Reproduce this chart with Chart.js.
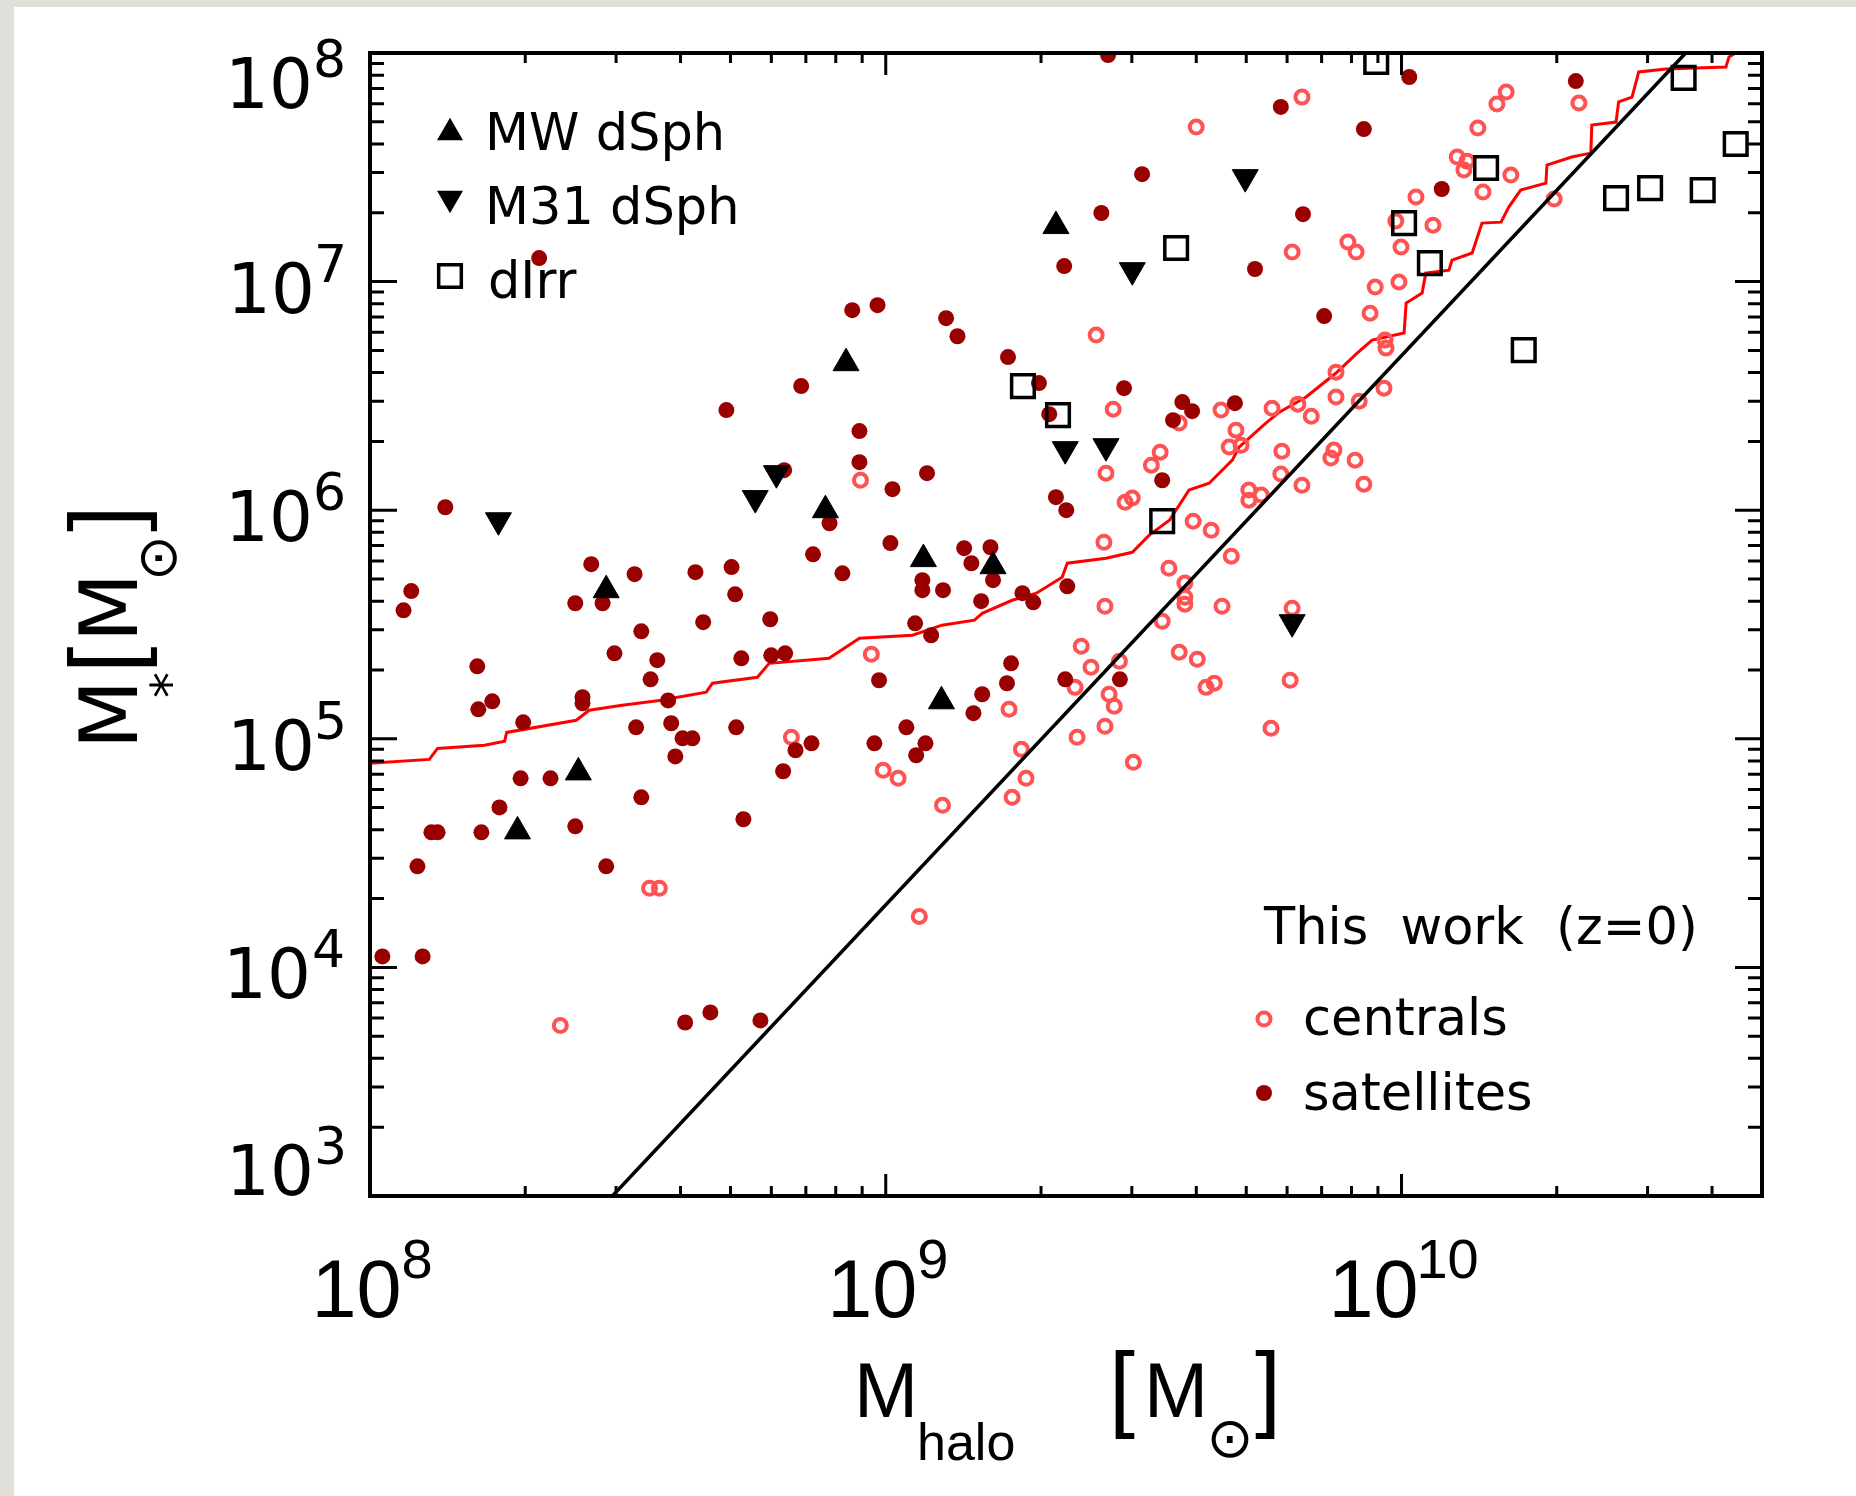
<!DOCTYPE html>
<html>
<head>
<meta charset="utf-8">
<title>M_star vs M_halo</title>
<script src="https://cdn.jsdelivr.net/npm/chart.js@4.4.1/dist/chart.umd.min.js"></script>
<style>
  html, body { margin:0; padding:0; background:#ffffff; }
  #page { position:relative; width:1856px; height:1496px; background:#ffffff; overflow:hidden; }
  #edgeLeft { position:absolute; left:0; top:0; width:14px; height:1496px; background:#e1dfda; }
  #edgeTop { position:absolute; left:0; top:0; width:1856px; height:7px; background:#e1dfda; }
  #chart { position:absolute; left:0; top:0; }
</style>
</head>
<body>
<div id="page">
  <div id="edgeLeft"></div>
  <div id="edgeTop"></div>
  <canvas id="chart" width="1856" height="1496"></canvas>
</div>
<script>
// ---- values, stored as log10(M / Msun) ----
const satLogMhalo = [8.328, 8.691, 8.836, 9.431, 9.766, 9.497, 9.418, 9.346, 9.716, 8.935,
  8.984, 9.117, 9.139, 9.237, 9.297, 9.317, 9.462, 9.575, 9.594, 9.557,
  9.677, 8.949, 10.015, 9.927, 10.338, 10.078, 9.809, 9.850, 8.146, 8.080,
  8.065, 8.429, 8.398, 8.451, 8.513, 8.526, 8.474, 8.557, 8.544, 8.631,
  8.701, 8.708, 8.646, 8.776, 8.720, 8.778, 8.805, 8.859, 8.803, 8.891,
  8.208, 8.237, 8.210, 8.297, 8.412, 8.412, 8.578, 8.584, 8.516, 8.606,
  8.625, 8.592, 8.710, 8.825, 8.856, 8.801, 8.292, 8.350, 8.526, 8.251,
  8.949, 9.080, 9.013, 9.536, 9.330, 9.350, 9.009, 8.916, 9.071, 9.071,
  9.111, 9.152, 9.166, 9.203, 9.208, 9.185, 9.265, 9.286, 9.352, 9.057,
  9.088, 8.987, 9.243, 9.235, 9.187, 9.170, 9.040, 8.978, 9.077, 9.059,
  9.348, 9.454, 8.724, 8.119, 8.131, 8.216, 8.398, 8.092, 8.458, 8.024,
  8.102, 8.611, 8.660, 8.757];
const satLogMstar = [7.103, 6.438, 6.543, 7.991, 7.764, 7.470, 7.300, 7.068, 7.055, 6.875,
  6.897, 6.840, 6.761, 6.670, 6.556, 6.420, 6.534, 6.473, 6.433, 6.394,
  6.468, 6.346, 7.895, 7.667, 7.877, 7.405, 7.295, 6.849, 6.013, 5.646,
  5.562, 5.764, 5.593, 5.593, 5.720, 5.470, 5.374, 5.344, 5.260, 5.729,
  5.751, 5.632, 5.510, 5.523, 5.352, 5.365, 5.374, 5.807, 6.175, 5.943,
  5.317, 5.164, 5.129, 5.072, 5.182, 5.155, 5.168, 5.068, 5.050, 5.002,
  5.002, 4.923, 5.050, 4.950, 4.980, 4.858, 4.827, 4.827, 4.744, 4.700,
  6.210, 6.162, 6.092, 6.131, 6.057, 6.000, 5.856, 5.724, 5.694, 5.650,
  5.650, 5.834, 5.768, 5.838, 5.694, 5.602, 5.637, 5.597, 5.667, 5.505,
  5.453, 5.256, 5.330, 5.243, 5.195, 5.112, 5.050, 4.980, 4.980, 4.928,
  5.260, 5.260, 4.648, 4.591, 4.591, 4.591, 4.617, 4.442, 4.442, 4.048,
  4.048, 3.759, 3.803, 3.768];

const cenLogMhalo = [9.602, 9.408, 9.441, 9.569, 9.650, 9.749, 9.679, 9.807, 10.203, 10.185,
  10.344, 10.148, 10.108, 10.127, 10.121, 10.212, 10.158, 10.028, 10.296, 9.989,
  10.061, 9.788, 9.896, 9.912, 9.999, 9.995, 9.949, 9.939, 9.968, 9.970,
  9.873, 9.873, 9.918, 9.966, 9.799, 9.825, 8.817, 8.951, 9.427, 9.532,
  9.515, 9.464, 9.478, 9.596, 9.631, 9.666, 9.689, 9.704, 9.704, 9.728,
  9.768, 9.766, 9.670, 9.423, 8.972, 9.239, 8.995, 9.024, 9.110, 9.263,
  9.272, 9.245, 9.379, 9.398, 9.367, 9.453, 9.433, 9.443, 9.425, 9.371,
  9.480, 9.425, 9.549, 9.580, 9.580, 9.580, 9.652, 9.536, 9.569, 9.604,
  9.621, 9.637, 9.747, 9.784, 9.869, 9.863, 9.910, 9.807, 9.927, 9.788,
  8.369, 8.542, 8.561, 9.065];
const cenLogMstar = [7.676, 6.766, 6.442, 6.381, 6.438, 6.446, 6.350, 7.807, 7.829, 7.777,
  7.781, 7.672, 7.545, 7.527, 7.488, 7.466, 7.392, 7.370, 7.361, 7.265,
  7.247, 7.129, 7.173, 7.129, 7.151, 6.998, 6.976, 6.862, 6.744, 6.709,
  6.604, 6.495, 6.477, 6.534, 6.464, 6.411, 5.007, 6.131, 6.162, 6.254,
  6.197, 6.035, 6.053, 5.952, 5.912, 6.276, 6.284, 6.088, 6.044, 6.066,
  6.258, 6.158, 5.799, 5.860, 5.370, 5.129, 4.862, 4.827, 4.709, 4.954,
  4.827, 4.744, 5.405, 5.313, 5.225, 5.339, 5.195, 5.142, 5.055, 5.007,
  4.897, 5.580, 5.746, 5.681, 5.619, 5.589, 5.580, 5.514, 5.379, 5.348,
  5.225, 5.243, 5.046, 5.256, 6.263, 6.228, 6.219, 6.109, 6.114, 5.571,
  3.746, 4.346, 4.346, 4.223];

const mwLogMhalo = [9.330, 8.923, 8.458, 8.883, 9.073, 9.208, 9.108, 8.404, 8.286];
const mwLogMstar = [7.243, 6.643, 5.650, 6.000, 5.786, 5.755, 5.164, 4.853, 4.595];

const m31LogMhalo = [9.697, 9.478, 8.249, 8.788, 8.747, 9.348, 9.427, 9.788];
const m31LogMstar = [7.457, 7.050, 5.956, 6.162, 6.053, 6.267, 6.280, 5.510];

const dirrLogMhalo = [9.951, 10.547, 10.648, 10.164, 10.416, 10.482, 10.584, 10.005, 10.055, 9.563, 10.237, 9.266, 9.334, 9.536];
const dirrLogMstar = [7.961, 7.891, 7.602, 7.497, 7.365, 7.409, 7.400, 7.256, 7.081, 7.147, 6.700, 6.543, 6.416, 5.952];

// red step-like curve (vertices)
const stepLogMhalo = [8.000, 8.115, 8.131, 8.222, 8.261, 8.265, 8.400, 8.425, 8.489, 8.561,
  8.652, 8.664, 8.751, 8.774, 8.890, 8.949, 9.052, 9.109, 9.172, 9.187,
  9.245, 9.292, 9.342, 9.352, 9.427, 9.478, 9.511, 9.550, 9.588, 9.627,
  9.672, 9.685, 9.737, 9.763, 9.815, 9.873, 9.914, 9.943, 10.005, 10.009,
  10.040, 10.047, 10.092, 10.098, 10.137, 10.156, 10.193, 10.208, 10.231, 10.280,
  10.282, 10.330, 10.367, 10.369, 10.416, 10.421, 10.447, 10.460, 10.513, 10.629,
  10.635, 10.648];
const stepLogMstar = [4.893, 4.910, 4.958, 4.972, 4.989, 5.028, 5.081, 5.125, 5.147, 5.168,
  5.204, 5.243, 5.269, 5.330, 5.352, 5.440, 5.453, 5.497, 5.519, 5.549,
  5.606, 5.637, 5.707, 5.768, 5.790, 5.816, 5.891, 5.956, 6.088, 6.118,
  6.219, 6.276, 6.381, 6.429, 6.495, 6.600, 6.687, 6.744, 6.775, 6.906,
  6.950, 7.037, 7.050, 7.094, 7.125, 7.256, 7.260, 7.326, 7.400, 7.431,
  7.510, 7.545, 7.562, 7.685, 7.698, 7.786, 7.807, 7.917, 7.930, 7.939,
  7.983, 8.000];

// black straight line (its two ends at the plot frame)
const lineLogMhalo = [8.470, 10.551];
const lineLogMstar = [3.000, 8.000];

// axes
const xTickValues = [1e8, 1e9, 1e10];
const xTickExponents = ['8', '9', '10'];
const yTickValues = [1e3, 1e4, 1e5, 1e6, 1e7, 1e8];
const yTickExponents = ['3', '4', '5', '6', '7', '8'];
const tickBase = '10';
const minorMultipliers = [2, 3, 4, 5, 6, 7, 8, 9];

// texts
const obsLegendLabels = ['MW dSph', 'M31 dSph', 'dIrr'];
const simLegendTitle = 'This work (z=0)';
const simLegendLabels = ['centrals', 'satellites'];

// colours
const SAT_COLOR = '#990000';
const CEN_COLOR = '#ff5252';
const STEP_COLOR = '#ff0000';

const toPoints = (lx, ly) => lx.map((v, i) => ({ x: Math.pow(10, v), y: Math.pow(10, ly[i]) }));

const DJV = '"DejaVu Sans", "Noto Sans", sans-serif';
const LIB = '"Liberation Sans", Arial, sans-serif';

function measure(ctx, text, font) {
  ctx.font = font;
  const m = ctx.measureText(text);
  return { L: m.actualBoundingBoxLeft, R: m.actualBoundingBoxRight,
           A: m.actualBoundingBoxAscent, D: m.actualBoundingBoxDescent,
           W: m.actualBoundingBoxLeft + m.actualBoundingBoxRight,
           H: m.actualBoundingBoxAscent + m.actualBoundingBoxDescent };
}
function textInkLeft(ctx, text, font, inkLeft, baseline) {
  const m = measure(ctx, text, font);
  ctx.fillText(text, inkLeft + m.L, baseline);
  return inkLeft + m.W;
}
function textInkRight(ctx, text, font, inkRight, baseline) {
  const m = measure(ctx, text, font);
  ctx.fillText(text, inkRight - m.R, baseline);
  return inkRight - m.W;
}
function textCentered(ctx, text, font, cx, cy) {
  const m = measure(ctx, text, font);
  ctx.fillText(text, cx - (m.R - m.L) / 2, cy + (m.A - m.D) / 2);
}
function fitSize(ctx, text, family, targetW) {
  const m = measure(ctx, text, '100px ' + family);
  return 100 * targetW / m.W;
}
function fitSizeH(ctx, text, family, targetH) {
  const m = measure(ctx, text, '100px ' + family);
  return 100 * targetH / m.H;
}

function drawMarker(ctx, kind, x, y) {
  ctx.save();
  ctx.beginPath();
  if (kind === 'up' || kind === 'down') {
    const r = 15, s = kind === 'up' ? 1 : -1;
    const cy = y + s * r / 4; // centroid from box centre
    ctx.moveTo(x, cy - s * r);
    ctx.lineTo(x + r * Math.sin(2 * Math.PI / 3), cy + s * r / 2);
    ctx.lineTo(x - r * Math.sin(2 * Math.PI / 3), cy + s * r / 2);
    ctx.closePath();
    ctx.fillStyle = '#000'; ctx.fill();
  } else if (kind === 'square') {
    const h = 16 * Math.SQRT1_2;
    ctx.rect(x - h, y - h, 2 * h, 2 * h);
    ctx.lineWidth = 3.5; ctx.strokeStyle = '#000'; ctx.stroke();
  } else if (kind === 'ring') {
    ctx.arc(x, y, 6.5, 0, 2 * Math.PI);
    ctx.lineWidth = 4; ctx.strokeStyle = CEN_COLOR; ctx.stroke();
  } else if (kind === 'dot') {
    ctx.arc(x, y, 8, 0, 2 * Math.PI);
    ctx.fillStyle = SAT_COLOR; ctx.fill();
  }
  ctx.restore();
}

const framePlugin = {
  id: 'framePlugin',
  afterDatasetsDraw(chart) {
    const ctx = chart.ctx, xs = chart.scales.x, ys = chart.scales.y, a = chart.chartArea;
    ctx.save();
    ctx.strokeStyle = '#000';
    ctx.lineCap = 'butt';
    ctx.lineWidth = 3;
    ctx.beginPath();
    xTickValues.forEach(dec => {
      [1].concat(minorMultipliers).forEach(k => {
        const v = dec * k;
        if (v < xs.min || v > xs.max) return;
        const p = xs.getPixelForValue(v);
        const len = k === 1 ? 22 : 10;
        ctx.moveTo(p, a.bottom); ctx.lineTo(p, a.bottom - len);
        ctx.moveTo(p, a.top); ctx.lineTo(p, a.top + len);
      });
    });
    yTickValues.forEach(dec => {
      [1].concat(minorMultipliers).forEach(k => {
        const v = dec * k;
        if (v < ys.min || v > ys.max) return;
        const p = ys.getPixelForValue(v);
        const len = k === 1 ? 27 : 14;
        ctx.moveTo(a.left, p); ctx.lineTo(a.left + len, p);
        ctx.moveTo(a.right, p); ctx.lineTo(a.right - len, p);
      });
    });
    ctx.stroke();
    ctx.lineWidth = 4;
    ctx.strokeRect(a.left, a.top, a.right - a.left, a.bottom - a.top);
    ctx.restore();
  },
  afterDraw(chart) {
    const ctx = chart.ctx, xs = chart.scales.x, ys = chart.scales.y;
    ctx.save();
    ctx.fillStyle = '#000';
    ctx.textAlign = 'left';
    ctx.textBaseline = 'alphabetic';

    // y tick labels
    yTickValues.forEach((v, i) => {
      const p = ys.getPixelForValue(v);
      let cy = p + 5;
      if (i === 0) cy = p - 27;
      if (i === yTickValues.length - 1) cy = p + 29;
      const mMain = measure(ctx, tickBase, '69px ' + DJV);
      const base = cy + mMain.A / 2;
      const supLeft = 343 - measure(ctx, yTickExponents[i], '52px ' + DJV).W;
      textInkLeft(ctx, yTickExponents[i], '52px ' + DJV, supLeft, base - 31);
      textInkRight(ctx, tickBase, '69px ' + DJV, supLeft - 7, base);
    });

    // x tick labels
    xTickValues.forEach((v, i) => {
      const p = xs.getPixelForValue(v);
      const mMain = measure(ctx, tickBase, '81px ' + LIB);
      const mSup = measure(ctx, xTickExponents[i], '56px ' + LIB);
      const total = mMain.W + 5 + mSup.W;
      const left = p + 4 - total / 2;
      textInkLeft(ctx, tickBase, '81px ' + LIB, left, 1317);
      textInkLeft(ctx, xTickExponents[i], '56px ' + LIB, left + mMain.W + 5, 1278);
    });

    // x axis title: M_halo [M_sun]
    const bracketSize = fitSizeH(ctx, '[', LIB, 88);
    const bFont = bracketSize + 'px ' + LIB;
    const sunSize = fitSize(ctx, '\u2299', DJV, 37);
    const sunFont = sunSize + 'px ' + DJV;
    textInkLeft(ctx, 'M', '77px ' + LIB, 860, 1417);
    textInkLeft(ctx, 'halo', '52px ' + LIB, 920, 1460);
    const mb = measure(ctx, '[', bFont);
    textInkLeft(ctx, '[', bFont, 1115, 1350 + mb.A);
    textInkLeft(ctx, 'M', '77px ' + LIB, 1150, 1417);
    textCentered(ctx, '\u2299', sunFont, 1230, 1439);
    textInkRight(ctx, ']', bFont, 1275, 1350 + measure(ctx, ']', bFont).A);

    // y axis title (rotated): M_* [M_sun]
    ctx.save();
    ctx.translate(137, 0);
    ctx.rotate(-Math.PI / 2);
    const yM = '80px ' + DJV;
    const ySun = fitSize(ctx, '\u2299', DJV, 36) + 'px ' + DJV;
    const yStar = fitSize(ctx, '*', DJV, 24) + 'px ' + DJV;
    const yB = fitSizeH(ctx, '[', LIB, 90) + 'px ' + LIB;
    const wM = measure(ctx, 'M', yM).W;
    const wB1 = measure(ctx, '[', yB).W;
    const wB2 = measure(ctx, ']', yB).W;
    const wS = measure(ctx, '\u2299', ySun).W;
    const pos = {};
    pos.m1 = 0;
    pos.star = wM + 2;
    pos.b1 = wM + 20;
    pos.m2 = pos.b1 + wB1 + 12;
    pos.sun = pos.m2 + wM + 3;
    pos.b2 = pos.sun + wS + 8;
    const total = pos.b2 + wB2;
    const u0 = -627 - total / 2;
    textInkLeft(ctx, 'M', yM, u0 + pos.m1, 0);
    textCentered(ctx, '*', yStar, u0 + pos.star, 24);
    textInkLeft(ctx, '[', yB, u0 + pos.b1, -70 + measure(ctx, '[', yB).A);
    textInkLeft(ctx, 'M', yM, u0 + pos.m2, 0);
    textCentered(ctx, '\u2299', ySun, u0 + pos.sun + wS / 2, 21);
    textInkLeft(ctx, ']', yB, u0 + pos.b2, -70 + measure(ctx, ']', yB).A);
    ctx.restore();

    // legend: observed dwarfs
    const legFont = '51px ' + DJV;
    const obsKinds = ['up', 'down', 'square'];
    const obsMarkerY = [129, 202, 276];
    const obsBase = [150, 224, 298];
    obsLegendLabels.forEach((t, i) => {
      drawMarker(ctx, obsKinds[i], 450, obsMarkerY[i]);
      ctx.fillStyle = '#000';
      textInkLeft(ctx, t, legFont, 490, obsBase[i]);
    });

    // legend: this work
    ctx.fillStyle = '#000';
    if ('wordSpacing' in ctx) ctx.wordSpacing = '16px';
    textInkLeft(ctx, simLegendTitle, legFont, 1263, 944);
    if ('wordSpacing' in ctx) ctx.wordSpacing = '0px';
    const simKinds = ['ring', 'dot'];
    const simMarkerY = [1019, 1093];
    const simBase = [1035, 1110];
    simLegendLabels.forEach((t, i) => {
      drawMarker(ctx, simKinds[i], 1264, simMarkerY[i]);
      ctx.fillStyle = '#000';
      textInkLeft(ctx, t, legFont, 1305, simBase[i]);
    });
    ctx.restore();
  }
};

const ctx = document.getElementById('chart').getContext('2d');
new Chart(ctx, {
  type: 'scatter',
  data: {
    datasets: [
      { label: 'dIrr', data: toPoints(dirrLogMhalo, dirrLogMstar), clip: 0,
        pointStyle: 'rect', pointRadius: 16, pointBorderWidth: 3.5,
        pointBorderColor: '#000', pointBackgroundColor: 'rgba(0,0,0,0)' },
      { label: 'M31 dSph', data: toPoints(m31LogMhalo, m31LogMstar), clip: 0,
        pointStyle: 'triangle', pointRotation: 180, pointRadius: 15, pointBorderWidth: 1,
        pointBorderColor: '#000', pointBackgroundColor: '#000' },
      { label: 'MW dSph', data: toPoints(mwLogMhalo, mwLogMstar), clip: 0,
        pointStyle: 'triangle', pointRadius: 15, pointBorderWidth: 1,
        pointBorderColor: '#000', pointBackgroundColor: '#000' },
      { label: 'relation', data: toPoints(lineLogMhalo, lineLogMstar), clip: 0,
        showLine: true, borderColor: '#000', borderWidth: 3.5, pointRadius: 0, tension: 0 },
      { label: 'satellites', data: toPoints(satLogMhalo, satLogMstar), clip: 0,
        pointStyle: 'circle', pointRadius: 8, pointBorderWidth: 0,
        pointBackgroundColor: SAT_COLOR, pointBorderColor: SAT_COLOR },
      { label: 'centrals', data: toPoints(cenLogMhalo, cenLogMstar), clip: 0,
        pointStyle: 'circle', pointRadius: 6.5, pointBorderWidth: 4,
        pointBorderColor: CEN_COLOR, pointBackgroundColor: 'rgba(0,0,0,0)' },
      { label: 'step', data: toPoints(stepLogMhalo, stepLogMstar), clip: 0,
        showLine: true, borderColor: STEP_COLOR, borderWidth: 3, pointRadius: 0, tension: 0 }
    ]
  },
  options: {
    responsive: false,
    devicePixelRatio: 1,
    animation: false,
    events: [],
    layout: { padding: { left: 0, top: 53, right: 94, bottom: 0 } },
    plugins: { legend: { display: false }, tooltip: { enabled: false }, title: { display: false } },
    scales: {
      x: {
        type: 'logarithmic', position: 'bottom', min: 1e8, max: 5e10,
        grid: { display: false, drawTicks: false }, border: { display: false },
        ticks: { display: false },
        afterFit(scale) { scale.height = 300; }
      },
      y: {
        type: 'logarithmic', position: 'left', min: 1e3, max: 1e8,
        grid: { display: false, drawTicks: false }, border: { display: false },
        ticks: { display: false },
        afterFit(scale) { scale.width = 370; }
      }
    }
  },
  plugins: [framePlugin]
});
</script>
</body>
</html>
